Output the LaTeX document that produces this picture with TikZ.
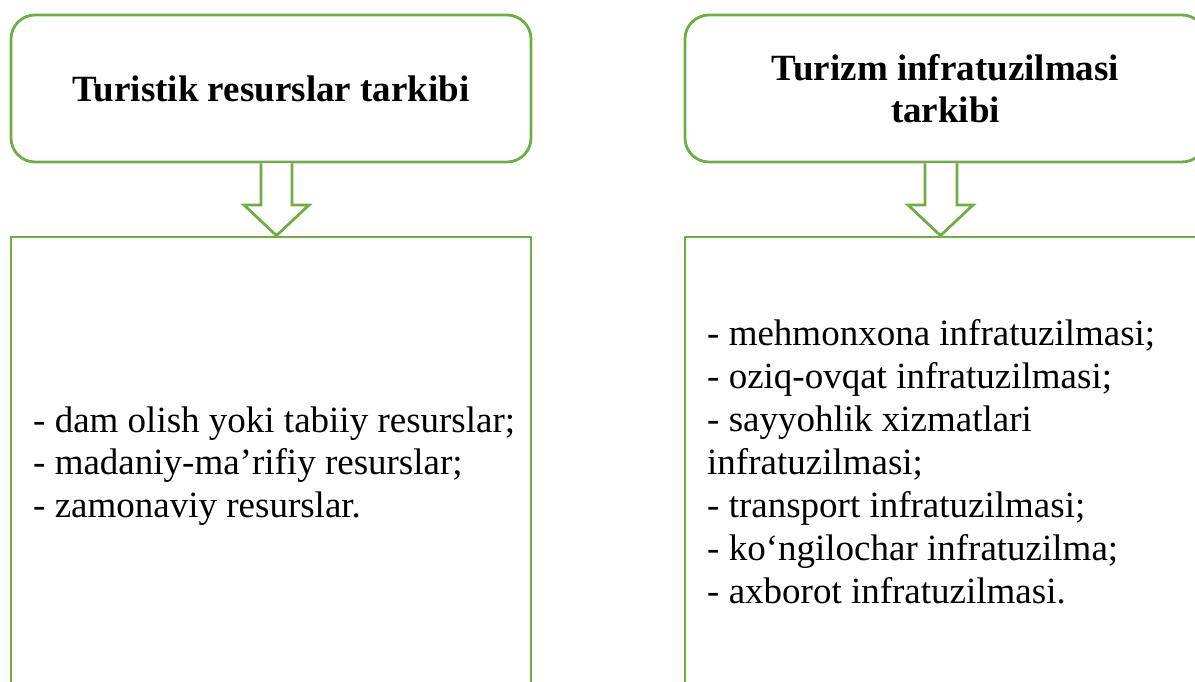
\documentclass[tikz,border=0pt]{standalone}
\usepackage{fontspec}
\setmainfont{Liberation Serif}
\usetikzlibrary{calc}
\definecolor{grn}{HTML}{70AD47}
\begin{document}
\begin{tikzpicture}[x=1pt,y=-1pt,
  gline/.style={draw=grn,line width=2.8pt},
  headbox/.style={gline,rounded corners=24pt,minimum height=147pt,inner sep=0pt,align=center,
    font=\fontsize{37}{42}\selectfont\bfseries},
  bodybox/.style={gline,minimum height=483pt,inner sep=0pt},
  bodytext/.style={anchor=base west,align=left,inner sep=0pt},
  garrow/.style={gline,fill=white,line join=miter}]
\useasboundingbox (0,0) rectangle (1195,681);
\clip (0,0) rectangle (1195,681);
% top boxes
\node[headbox,minimum width=520pt] (t1) at (271,88.5) {Turistik resurslar tarkibi};
\node[headbox,minimum width=521pt] (t2) at (945.5,88.5) {Turizm infratuzilmasi\\tarkibi};
% bottom boxes
\node[bodybox,minimum width=520pt] (b1) at (271,478.5) {};
\node[bodybox,minimum width=521pt] (b2) at (945.5,478.5) {};
% arrows
\draw[garrow] (261,0 |- t1.south) -- (261,205) -- (244,205) -- (276.5,0 |- b1.north)
  -- (309,205) -- (292,205) -- (292,0 |- t1.south);
\draw[garrow] (925,0 |- t2.south) -- (925,205) -- (908,205) -- (940.5,0 |- b2.north)
  -- (973,205) -- (957,205) -- (957,0 |- t2.south);
% texts (base anchor = baseline of the last line)
\node[bodytext,font=\fontsize{37}{42.7}\selectfont] (l1) at (33,517.4)
  {- dam olish yoki tabiiy resurslar;\\- madaniy-ma’rifiy resurslar;\\- zamonaviy resurslar.};
\node[bodytext,font=\fontsize{37}{43}\selectfont] (r1) at (707,603)
  {- mehmonxona infratuzilmasi;\\- oziq-ovqat infratuzilmasi;\\- sayyohlik xizmatlari\\infratuzilmasi;\\- transport infratuzilmasi;\\- ko‘ngilochar infratuzilma;\\- axborot infratuzilmasi.};
\end{tikzpicture}
\end{document}
